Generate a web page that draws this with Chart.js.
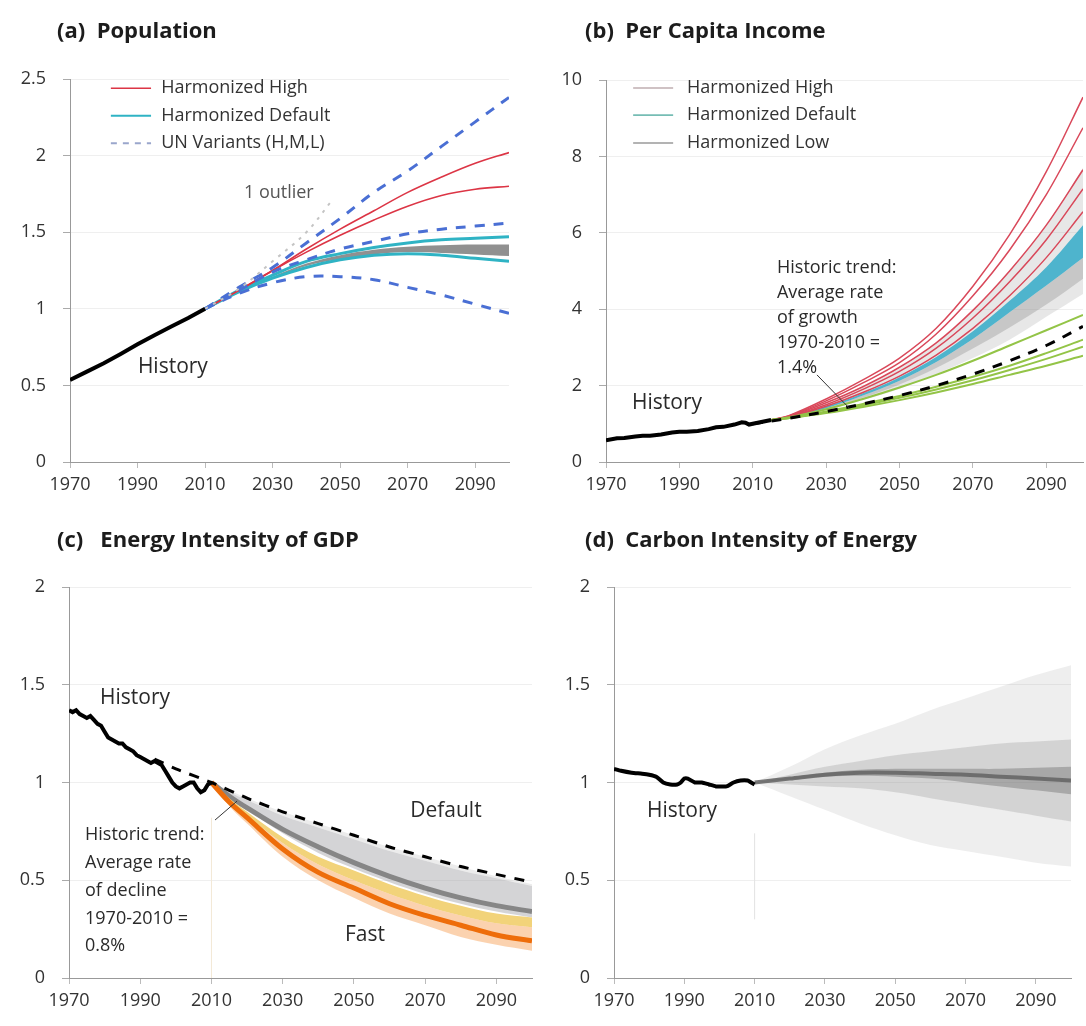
<!DOCTYPE html>
<html>
<head>
<meta charset="utf-8">
<script src="https://cdn.jsdelivr.net/npm/chart.js@4.4.0/dist/chart.umd.min.js"></script>
<style>
  html, body { margin: 0; padding: 0; background: #fff; }
  #wrap { position: relative; width: 1086px; height: 1026px; }
  .panel { position: absolute; width: 543px; height: 513px; }
</style>
</head>
<body>
<div id="wrap">
  <div class="panel" style="left:0;top:0"><canvas id="popChart" width="543" height="513"></canvas></div>
  <div class="panel" style="left:543px;top:0"><canvas id="incChart" width="543" height="513"></canvas></div>
  <div class="panel" style="left:0;top:513px"><canvas id="eiChart" width="543" height="513"></canvas></div>
  <div class="panel" style="left:543px;top:513px"><canvas id="ciChart" width="543" height="513"></canvas></div>
</div>
<script>
const FONT = '"Open Sans", Lato, sans-serif';
const xTickYears = [1970, 1990, 2010, 2030, 2050, 2070, 2090];

// (a) Population, 2010 = 1
const popHistYears = [1970, 1975, 1980, 1985, 1990, 1995, 2000, 2005, 2010];
const popHist = [0.535, 0.59, 0.645, 0.705, 0.768, 0.828, 0.884, 0.94, 1.0];
const projYears = [2010, 2020, 2030, 2040, 2050, 2060, 2070, 2080, 2090, 2100];
const unHigh = [1.0, 1.14, 1.27, 1.43, 1.59, 1.76, 1.90, 2.06, 2.22, 2.38];
const unMedium = [1.0, 1.12, 1.24, 1.32, 1.39, 1.44, 1.49, 1.52, 1.54, 1.56];
const unLow = [1.0, 1.10, 1.17, 1.21, 1.21, 1.19, 1.14, 1.09, 1.03, 0.97];
const popHighA = [1.0, 1.12, 1.25, 1.39, 1.52, 1.64, 1.76, 1.86, 1.95, 2.02];
const popHighB = [1.0, 1.12, 1.25, 1.37, 1.48, 1.58, 1.67, 1.74, 1.78, 1.80];
const popDefaultUpper = [1.0, 1.12, 1.22, 1.31, 1.36, 1.40, 1.43, 1.45, 1.46, 1.47];
const popDefaultLower = [1.0, 1.11, 1.20, 1.27, 1.32, 1.35, 1.36, 1.35, 1.33, 1.31];
const popGreyUpper = [1.0, 1.115, 1.21, 1.295, 1.35, 1.385, 1.405, 1.415, 1.42, 1.42];
const popGreyLower = [1.0, 1.11, 1.20, 1.28, 1.325, 1.355, 1.37, 1.365, 1.355, 1.345];
const outlierYears = [2010, 2020, 2030, 2040, 2048];
const outlierPop = [1.0, 1.13, 1.31, 1.50, 1.72];

// (b) Per capita income, 2010 = 1
const incHistYears = [1970, 1973, 1975, 1978, 1980, 1982, 1985, 1988, 1990, 1992, 1995, 1998, 2000, 2002, 2005, 2007, 2008, 2009, 2010, 2012, 2015];
const incHist = [0.57, 0.62, 0.63, 0.67, 0.69, 0.69, 0.72, 0.77, 0.79, 0.79, 0.81, 0.86, 0.91, 0.92, 0.98, 1.04, 1.03, 0.98, 1.0, 1.04, 1.1];
const incTrendYears = [2010, 2020, 2030, 2040, 2050, 2060, 2070, 2080, 2090, 2100];
const incTrend = [1.0, 1.15, 1.32, 1.52, 1.74, 2.0, 2.3, 2.65, 3.05, 3.55];
const incYears = [2015, 2020, 2030, 2040, 2050, 2060, 2070, 2080, 2090, 2100];
const incHigh1 = [1.1, 1.22, 1.65, 2.15, 2.72, 3.5, 4.6, 5.95, 7.6, 9.55];
const incHigh2 = [1.1, 1.21, 1.6, 2.07, 2.6, 3.35, 4.35, 5.55, 7.0, 8.75];
const incHigh3 = [1.1, 1.2, 1.55, 1.97, 2.48, 3.12, 3.97, 5.0, 6.2, 7.65];
const incHigh4 = [1.1, 1.19, 1.5, 1.9, 2.37, 2.98, 3.77, 4.72, 5.82, 7.15];
const incHigh5 = [1.1, 1.18, 1.46, 1.82, 2.25, 2.8, 3.5, 4.35, 5.35, 6.55];
const incCyanUpper = [1.1, 1.18, 1.45, 1.8, 2.22, 2.75, 3.42, 4.22, 5.1, 6.2];
const incCyanLower = [1.1, 1.17, 1.41, 1.74, 2.13, 2.62, 3.22, 3.92, 4.62, 5.35];
const incGreyUpper = [1.1, 1.19, 1.52, 1.95, 2.45, 3.1, 3.95, 5.0, 6.2, 7.7];
const incGreyLower = [1.1, 1.15, 1.36, 1.62, 1.92, 2.3, 2.72, 3.2, 3.8, 4.4];
const incCoreLower = [1.1, 1.16, 1.38, 1.68, 2.03, 2.46, 2.97, 3.52, 4.12, 4.8];
const incLow1 = [1.1, 1.17, 1.38, 1.65, 1.95, 2.28, 2.65, 3.05, 3.45, 3.85];
const incLow2 = [1.1, 1.15, 1.32, 1.52, 1.73, 1.97, 2.23, 2.52, 2.85, 3.2];
const incLow3 = [1.1, 1.15, 1.3, 1.48, 1.68, 1.9, 2.14, 2.41, 2.7, 3.02];
const incLow4 = [1.1, 1.15, 1.28, 1.44, 1.62, 1.82, 2.04, 2.28, 2.52, 2.78];

// (c) Energy intensity of GDP, 2010 = 1
const eiHistYears = [1970, 1971, 1972, 1973, 1974, 1975, 1976, 1977, 1978, 1979, 1980, 1981, 1982, 1983, 1984, 1985, 1986, 1987, 1988, 1989,
  1990, 1991, 1992, 1993, 1994, 1995, 1996, 1997, 1998, 1999, 2000, 2001, 2002, 2003, 2004, 2005, 2006, 2007, 2008, 2009, 2010];
const eiHist = [1.37, 1.36, 1.37, 1.35, 1.34, 1.33, 1.34, 1.32, 1.30, 1.29, 1.26, 1.23, 1.22, 1.21, 1.20, 1.20, 1.18, 1.17, 1.16, 1.14,
  1.13, 1.12, 1.11, 1.10, 1.11, 1.10, 1.09, 1.06, 1.03, 1.00, 0.98, 0.97, 0.98, 0.99, 1.00, 1.00, 0.97, 0.95, 0.96, 0.99, 1.00];
const eiTrendYears = [1994, 2000, 2010, 2020, 2030, 2040, 2050, 2060, 2070, 2080, 2090, 2100];
const eiTrend = [1.12, 1.07, 1.0, 0.92, 0.85, 0.79, 0.73, 0.67, 0.62, 0.57, 0.53, 0.49];
const eiYears = [2010, 2015, 2020, 2030, 2040, 2050, 2060, 2070, 2080, 2090, 2100];
const eiGreyOuter = [1.0, 0.96, 0.92, 0.85, 0.79, 0.73, 0.67, 0.62, 0.57, 0.52, 0.48];
const eiGreyTop = [1.0, 0.95, 0.91, 0.83, 0.77, 0.71, 0.65, 0.60, 0.55, 0.51, 0.47];
const eiGreyMid = [1.0, 0.93, 0.87, 0.76, 0.67, 0.59, 0.52, 0.46, 0.41, 0.37, 0.34];
const eiGreyBottom = [1.0, 0.92, 0.86, 0.74, 0.64, 0.56, 0.49, 0.43, 0.38, 0.34, 0.31];
const eiYellowTop = [1.0, 0.92, 0.85, 0.72, 0.62, 0.55, 0.48, 0.42, 0.37, 0.33, 0.31];
const eiYellowBottom = [1.0, 0.91, 0.83, 0.69, 0.58, 0.50, 0.43, 0.37, 0.32, 0.28, 0.26];
const eiFast = [1.0, 0.90, 0.82, 0.66, 0.54, 0.46, 0.38, 0.32, 0.27, 0.22, 0.19];
const eiFastLow = [1.0, 0.88, 0.79, 0.62, 0.50, 0.41, 0.33, 0.27, 0.21, 0.17, 0.14];
const eiMarkerYears = [2010, 2010];
const eiMarker = [0.0, 0.82];

// (d) Carbon intensity of energy, 2010 = 1
const ciHistYears = [1970, 1972, 1975, 1978, 1980, 1982, 1984, 1986, 1988, 1989, 1990, 1991, 1993, 1995, 1997, 1999, 2000, 2002, 2004, 2006, 2008, 2009, 2010];
const ciHist = [1.07, 1.06, 1.05, 1.045, 1.04, 1.03, 1.0, 0.99, 0.99, 1.0, 1.02, 1.02, 1.0, 1.0, 0.99, 0.98, 0.98, 0.98, 1.0, 1.01, 1.01, 1.0, 0.99];
const ciYears = [2010, 2020, 2030, 2040, 2050, 2060, 2070, 2080, 2090, 2100];
const ciMid = [1.0, 1.02, 1.04, 1.05, 1.05, 1.045, 1.04, 1.03, 1.02, 1.01];
const ciDarkTop = [1.0, 1.025, 1.05, 1.065, 1.07, 1.07, 1.07, 1.07, 1.075, 1.08];
const ciDarkBottom = [1.0, 1.015, 1.03, 1.035, 1.03, 1.02, 1.0, 0.98, 0.96, 0.94];
const ciMedTop = [1.0, 1.04, 1.08, 1.11, 1.14, 1.16, 1.18, 1.2, 1.21, 1.22];
const ciMedBottom = [1.0, 0.99, 0.98, 0.97, 0.95, 0.92, 0.89, 0.86, 0.83, 0.8];
const ciLightTop = [1.0, 1.08, 1.17, 1.24, 1.3, 1.37, 1.43, 1.49, 1.55, 1.6];
const ciLightBottom = [1.0, 0.93, 0.86, 0.79, 0.73, 0.68, 0.65, 0.62, 0.59, 0.57];
const ciMarkerYears = [2010, 2010];
const ciMarker = [0.3, 0.74];

function pts(xs, ys) {
  return xs.map((x, i) => ({ x: x, y: ys[i] }));
}

function line(xs, ys, color, width, extra) {
  return Object.assign({
    data: pts(xs, ys), borderColor: color, borderWidth: width,
    pointRadius: 0, fill: false, tension: 0.35
  }, extra || {});
}

// two datasets, the second one filled down to the first
function band(xs, lower, upper, color) {
  return [
    { data: pts(xs, lower), borderColor: 'rgba(0,0,0,0)', borderWidth: 1, pointRadius: 0, fill: false, tension: 0.35 },
    { data: pts(xs, upper), borderColor: 'rgba(0,0,0,0)', borderWidth: 1, pointRadius: 0, fill: '-1', backgroundColor: color, tension: 0.35 }
  ];
}

// titles, labels, leader lines and the small legends
const notes = {
  id: 'notes',
  afterDatasetsDraw(chart, args, o) {
    const ctx = chart.ctx;
    const x = chart.scales.x, y = chart.scales.y;
    ctx.save();
    ctx.textBaseline = 'middle';
    ctx.textAlign = 'left';
    ctx.fillStyle = '#1c1c1c';
    ctx.font = 'bold 22px ' + FONT;
    ctx.fillText(o.title, o.titlePos[0], o.titlePos[1]);

    (o.legend || []).forEach(l => {
      const py = y.getPixelForValue(l.y);
      ctx.beginPath();
      ctx.strokeStyle = l.color;
      ctx.lineWidth = l.width;
      ctx.setLineDash(l.dash || []);
      ctx.moveTo(x.getPixelForValue(l.x0), py);
      ctx.lineTo(x.getPixelForValue(l.x1), py);
      ctx.stroke();
      ctx.setLineDash([]);
      ctx.fillStyle = '#333';
      ctx.font = '18px ' + FONT;
      ctx.fillText(l.text, x.getPixelForValue(l.tx), py);
    });

    (o.texts || []).forEach(t => {
      ctx.fillStyle = t.color || '#2a2a2a';
      ctx.font = t.size + 'px ' + FONT;
      const px = x.getPixelForValue(t.x), py = y.getPixelForValue(t.y);
      t.lines.forEach((s, i) => ctx.fillText(s, px, py + i * (t.gap || 0)));
    });

    (o.leaders || []).forEach(l => {
      ctx.beginPath();
      ctx.strokeStyle = '#333';
      ctx.lineWidth = 1;
      ctx.moveTo(x.getPixelForValue(l[0]), y.getPixelForValue(l[1]));
      ctx.lineTo(x.getPixelForValue(l[2]), y.getPixelForValue(l[3]));
      ctx.stroke();
    });
    ctx.restore();
  }
};

function makeChart(id, sets, yMax, yStep, yWidth, padding, noteOpts) {
  sets.forEach((d, i) => { d.order = sets.length - i; }); // first listed = drawn first
  return new Chart(document.getElementById(id), {
    type: 'line',
    data: { datasets: sets },
    options: {
      responsive: false,
      animation: false,
      layout: { padding: padding },
      plugins: { legend: { display: false }, tooltip: { enabled: false }, notes: noteOpts },
      scales: {
        x: {
          type: 'linear', min: 1970, max: 2100,
          afterBuildTicks: s => { s.ticks = xTickYears.map(v => ({ value: v })); },
          afterFit: s => { s.height = 40; },
          grid: { drawOnChartArea: false, tickLength: 6, tickColor: '#bbb' },
          border: { color: '#999' },
          ticks: { autoSkip: false, maxRotation: 0, padding: 6, color: '#333',
            font: { family: FONT, size: 18 }, callback: v => String(v) }
        },
        y: {
          min: 0, max: yMax,
          afterFit: s => { s.width = yWidth; },
          grid: { color: '#efefef', tickLength: 7, tickColor: '#aaa' },
          border: { color: '#999' },
          ticks: { stepSize: yStep, padding: 17, color: '#333', font: { family: FONT, size: 18 },
            callback: v => String(+v.toFixed(2)) }
        }
      }
    },
    plugins: [notes]
  });
}

// ---- (a) ----
const unDash = { borderDash: [10, 9] };
makeChart('popChart', [
  ...band(projYears, popGreyLower, popGreyUpper, 'rgba(125,125,125,0.85)'),
  line(projYears, popDefaultUpper, '#2fb3c4', 3),
  line(projYears, popDefaultLower, '#2fb3c4', 3),
  line(projYears, popHighA, '#dc3545', 1.6),
  line(projYears, popHighB, '#dc3545', 1.6),
  line(projYears, unHigh, '#4a6fd4', 3, unDash),
  line(projYears, unMedium, '#4a6fd4', 3, unDash),
  line(projYears, unLow, '#4a6fd4', 3, unDash),
  line(outlierYears, outlierPop, '#c4c4c4', 2, { borderDash: [3, 6] }),
  line(popHistYears, popHist, '#000', 4, { tension: 0 })
], 2.5, 0.5, 70, { top: 79, right: 34, bottom: 11, left: 0 }, {
  title: '(a)  Population', titlePos: [57, 32],
  legend: [
    { x0: 1982.1, x1: 1994, tx: 1997, y: 2.44, color: '#dc3545', width: 1.6, text: 'Harmonized High' },
    { x0: 1982.1, x1: 1994, tx: 1997, y: 2.26, color: '#2fb3c4', width: 2, text: 'Harmonized Default' },
    { x0: 1982.1, x1: 1994, tx: 1997, y: 2.08, color: '#9aa6cc', width: 2, dash: [6, 6], text: 'UN Variants (H,M,L)' }
  ],
  texts: [
    { lines: ['History'], x: 1990.1, y: 0.62, size: 21 },
    { lines: ['1 outlier'], x: 2021.5, y: 1.755, size: 18, color: '#555' }
  ]
});

// ---- (b) ----
const incRed = '#d9485a', incGreen = '#93c447';
makeChart('incChart', [
  ...band(incYears, incGreyLower, incGreyUpper, 'rgba(170,170,170,0.28)'),
  ...band(incYears, incCoreLower, incCyanLower, 'rgba(140,140,140,0.35)'),
  ...band(incYears, incCyanLower, incCyanUpper, 'rgba(50,170,200,0.85)'),
  line(incYears, incHigh5, incRed, 1.5),
  line(incYears, incHigh4, incRed, 1.5),
  line(incYears, incHigh3, incRed, 1.5),
  line(incYears, incHigh2, incRed, 1.5),
  line(incYears, incHigh1, incRed, 1.5),
  line(incYears, incLow1, incGreen, 2),
  line(incYears, incLow2, incGreen, 2),
  line(incYears, incLow3, incGreen, 2),
  line(incYears, incLow4, incGreen, 2),
  line(incTrendYears, incTrend, '#000', 3, { borderDash: [10, 9] }),
  line(incHistYears, incHist, '#000', 4, { tension: 0 })
], 10, 2, 63, { top: 80, right: 3, bottom: 11, left: 0 }, {
  title: '(b)  Per Capita Income', titlePos: [42, 32],
  legend: [
    { x0: 1977.4, x1: 1988.3, tx: 1992.1, y: 9.79, color: '#bfaeb1', width: 1.6, text: 'Harmonized High' },
    { x0: 1977.4, x1: 1988.3, tx: 1992.1, y: 9.08, color: '#76bdb4', width: 1.6, text: 'Harmonized Default' },
    { x0: 1977.4, x1: 1988.3, tx: 1992.1, y: 8.35, color: '#9a9a9a', width: 1.6, text: 'Harmonized Low' }
  ],
  texts: [
    { lines: ['History'], x: 1977.1, y: 1.54, size: 21 },
    { lines: ['Historic trend:', 'Average rate', 'of growth', '1970-2010 =', '1.4%'], x: 2016.6, y: 5.08, size: 18, gap: 25 }
  ],
  leaders: [[2027.5, 2.28, 2036.3, 1.41]]
});

// ---- (c) ----
makeChart('eiChart', [
  line(eiMarkerYears, eiMarker, '#f3e8d6', 1, { tension: 0 }),
  ...band(eiYears, eiGreyTop, eiGreyOuter, 'rgba(200,200,200,0.35)'),
  ...band(eiYears, eiGreyBottom, eiGreyTop, 'rgba(160,160,165,0.45)'),
  line(eiYears, eiGreyMid, 'rgba(125,125,125,0.9)', 5),
  ...band(eiYears, eiYellowBottom, eiYellowTop, '#f2d37a'),
  ...band(eiYears, eiFastLow, eiYellowBottom, 'rgba(247,165,95,0.5)'),
  line(eiYears, eiFast, '#ee6d0a', 5),
  line(eiTrendYears, eiTrend, '#000', 3, { borderDash: [10, 9], tension: 0.2 }),
  line(eiHistYears, eiHist, '#000', 4, { tension: 0 })
], 2, 0.5, 69, { top: 74, right: 11, bottom: 8, left: 0 }, {
  title: '(c)   Energy Intensity of GDP', titlePos: [57, 28],
  texts: [
    { lines: ['History'], x: 1978.7, y: 1.43, size: 21 },
    { lines: ['Default'], x: 2065.8, y: 0.854, size: 21 },
    { lines: ['Fast'], x: 2047.5, y: 0.22, size: 21 },
    { lines: ['Historic trend:', 'Average rate', 'of decline', '1970-2010 =', '0.8%'], x: 1974.5, y: 0.73, size: 18, gap: 27.7 }
  ],
  leaders: [[2011, 0.808, 2017.2, 0.905]]
});

// ---- (d) ----
makeChart('ciChart', [
  line(ciMarkerYears, ciMarker, '#e2e2e2', 1, { tension: 0 }),
  ...band(ciYears, ciLightBottom, ciLightTop, 'rgba(150,150,150,0.16)'),
  ...band(ciYears, ciMedBottom, ciMedTop, 'rgba(120,120,120,0.22)'),
  ...band(ciYears, ciDarkBottom, ciDarkTop, 'rgba(90,90,90,0.35)'),
  line(ciYears, ciMid, 'rgba(100,100,100,0.85)', 4),
  line(ciHistYears, ciHist, '#000', 4, { tension: 0.2 })
], 2, 0.5, 71, { top: 74, right: 15, bottom: 8, left: 0 }, {
  title: '(d)  Carbon Intensity of Energy', titlePos: [42, 28],
  texts: [
    { lines: ['History'], x: 1979.4, y: 0.854, size: 21 }
  ]
});
</script>
</body>
</html>
